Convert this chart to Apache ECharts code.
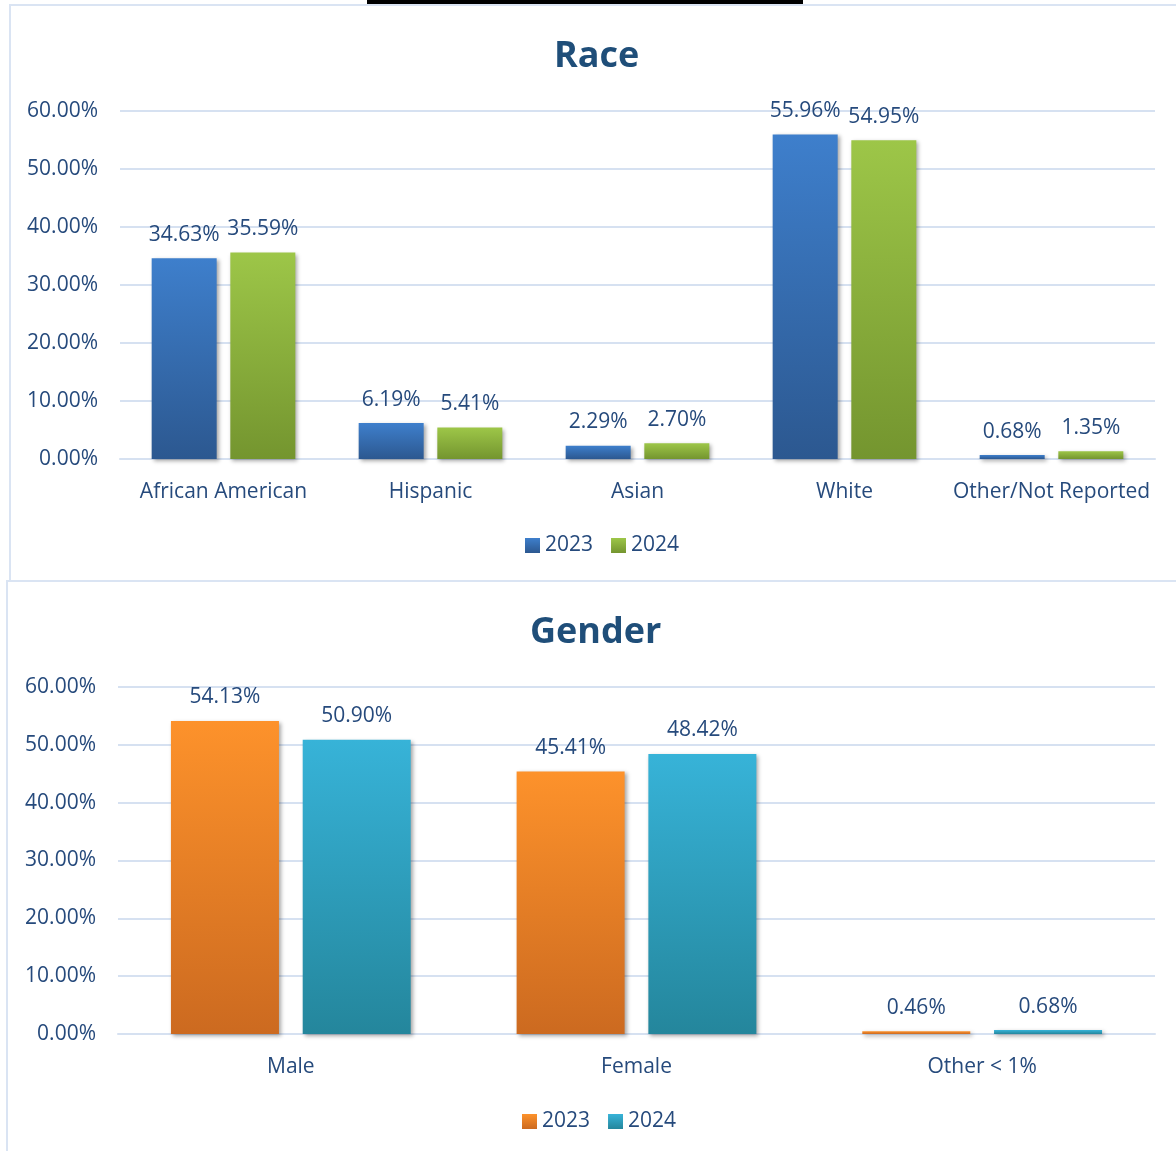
<!DOCTYPE html>
<html>
<head>
  <meta charset="utf-8">
  <title>Race and Gender</title>
  <script src="https://cdn.jsdelivr.net/npm/echarts@6/dist/echarts.min.js"></script>
  <style>
    body { margin: 0; background: #fff; }
    .frame { position: absolute; border: 2px solid #dae4f3; box-sizing: border-box; }
    .chart { position: absolute; left: 0; width: 1176px; }
  </style>
</head>
<body>
  <div style="position:absolute;left:367px;top:0;width:436px;height:4px;background:#000;"></div>
  <div class="frame" style="left:9px;top:4px;width:1180px;height:578px;"></div>
  <div class="frame" style="left:6px;top:580px;width:1180px;height:580px;"></div>
  <div id="race" class="chart" style="top:0;height:580px;"></div>
  <div id="gender" class="chart" style="top:580px;height:571px;"></div>
  <script type="text/javascript">
    // data
    var raceCats = ['African American', 'Hispanic', 'Asian', 'White', 'Other/Not Reported'];
    var race2023 = [34.63, 6.19, 2.29, 55.96, 0.68];
    var race2024 = [35.59, 5.41, 2.70, 54.95, 1.35];

    var genderCats = ['Male', 'Female', 'Other < 1%'];
    var gender2023 = [54.13, 45.41, 0.46];
    var gender2024 = [50.90, 48.42, 0.68];

    var yTicks = [0, 10, 20, 30, 40, 50, 60];

    var txt = '#264a7c';
    var font = 'Open Sans';
    var fs = 21;

    function grad(top, bottom) {
      return new echarts.graphic.LinearGradient(0, 0, 0, 1, [
        { offset: 0, color: top },
        { offset: 1, color: bottom }
      ]);
    }

    function barSeries(name, data, c, width, gap) {
      return {
        name: name,
        type: 'bar',
        data: data,
        barWidth: width,
        barGap: gap,
        itemStyle: {
          color: c,
          shadowColor: 'rgba(0,0,0,0.35)',
          shadowBlur: 4,
          shadowOffsetX: 2,
          shadowOffsetY: 2
        },
        label: {
          show: true,
          position: 'top',
          distance: 13,
          color: txt,
          fontFamily: font,
          fontSize: fs,
          formatter: function (p) { return p.value.toFixed(2) + '%'; }
        }
      };
    }

    function makeOption(title, cats, s1, s2, grid, titleLeft, titleTop, legendLeft, legendTop) {
      return {
        animation: false,
        title: {
          text: title,
          left: titleLeft,
          top: titleTop,
          padding: 0,
          textStyle: { color: '#1f4e79', fontFamily: font, fontSize: 36, fontWeight: 'bold' }
        },
        legend: {
          top: legendTop,
          left: legendLeft,
          padding: 0,
          icon: 'rect',
          itemWidth: 15,
          itemHeight: 15,
          itemGap: 18,
          textStyle: { color: txt, fontFamily: font, fontSize: fs }
        },
        grid: grid,
        xAxis: {
          type: 'category',
          data: cats,
          axisTick: { show: false },
          axisLine: { show: true, lineStyle: { color: '#d6e1f1', width: 2 } },
          axisLabel: { color: txt, fontFamily: font, fontSize: fs, margin: 23, interval: 0 }
        },
        yAxis: {
          type: 'value',
          min: yTicks[0],
          max: yTicks[yTicks.length - 1],
          interval: 10,
          axisLine: { show: false },
          axisTick: { show: false },
          splitLine: { lineStyle: { color: '#d6e1f1', width: 2 } },
          axisLabel: {
            color: txt, fontFamily: font, fontSize: fs, margin: 22,
            formatter: function (v) { return v.toFixed(2) + '%'; }
          }
        },
        series: [s1, s2]
      };
    }

    var raceChart = echarts.init(document.getElementById('race'));
    raceChart.setOption(makeOption('Race', raceCats,
      barSeries('2023', race2023, grad('#3e7fcc', '#2c5890'), 65, '21%'),
      barSeries('2024', race2024, grad('#9dc648', '#74952f'), 65, '21%'),
      { left: 120, right: 21, top: 111, bottom: 121 }, 554, 39, 525, 535));

    var genderChart = echarts.init(document.getElementById('gender'));
    genderChart.setOption(makeOption('Gender', genderCats,
      barSeries('2023', gender2023, grad('#fd922b', '#cc6a20'), 108, '22%'),
      barSeries('2024', gender2024, grad('#37b3d8', '#24869c'), 108, '22%'),
      { left: 118, right: 21, top: 107, bottom: 117 }, 530, 35, 522, 531));
  </script>
</body>
</html>
